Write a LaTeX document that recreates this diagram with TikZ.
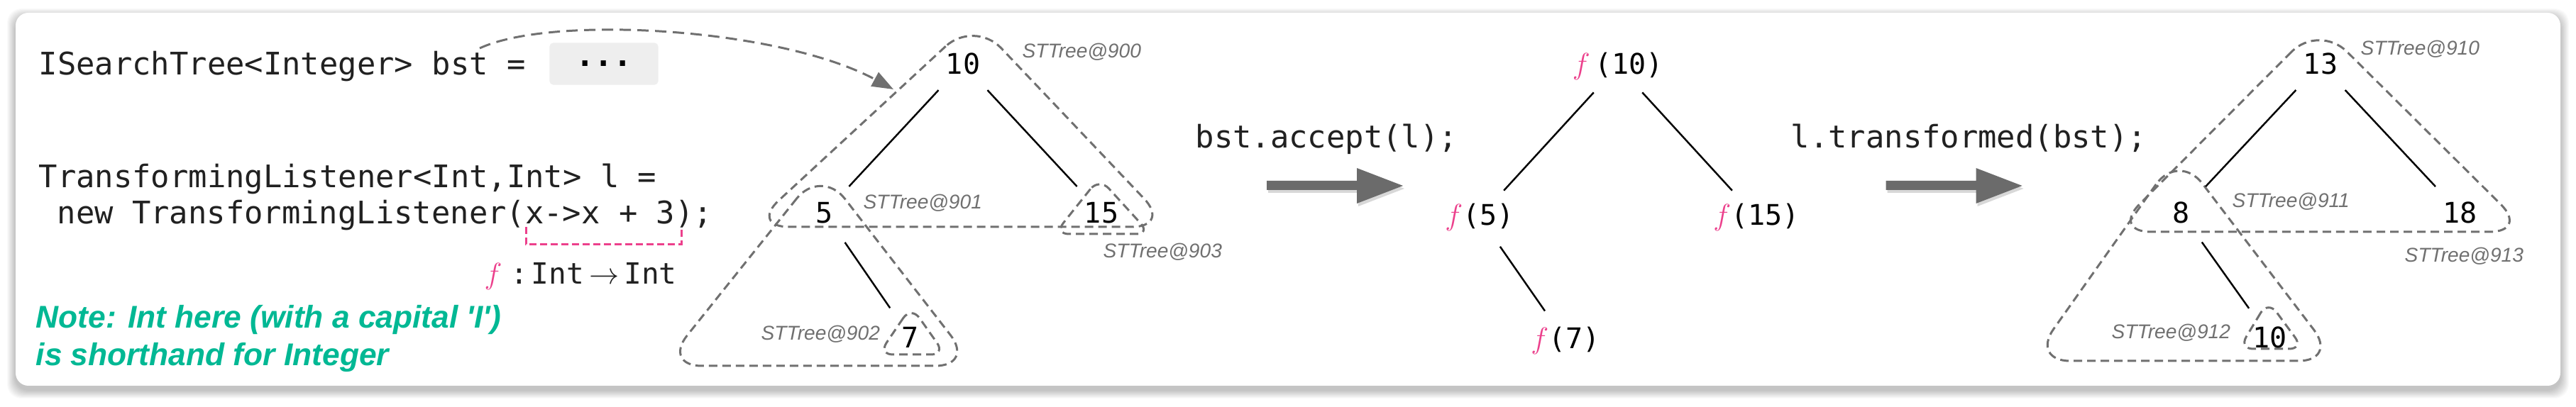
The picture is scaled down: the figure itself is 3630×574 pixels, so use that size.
\documentclass[tikz,border=0pt]{standalone}
\usepackage{fontspec}
\usepackage{tikz}
\usetikzlibrary{arrows.meta,shadows,positioning}
\newfontfamily\codefont{DejaVu Sans Mono}
\newfontfamily\labelfont{Liberation Sans}
\definecolor{fpink}{RGB}{236,64,140}
\definecolor{notegreen}{RGB}{0,184,148}
\definecolor{shapegrey}{RGB}{112,112,112}
\definecolor{arrowgrey}{RGB}{107,107,107}
\definecolor{dotsgrey}{RGB}{238,238,238}
\newcommand{\ffun}{\textcolor{fpink}{\fontsize{12pt}{14pt}\selectfont$f$}}
\newcommand{\fval}[2][]{\makebox[0pt]{\ffun#1(#2)}}

\begin{document}
\begin{tikzpicture}[x=0.01cm,y=-0.01cm,
  code/.style={anchor=base west,inner sep=0,text=black!87,font=\codefont\fontsize{12.46pt}{15pt}\selectfont},
  num/.style={circle,inner sep=0,minimum size=1cm,font=\codefont\fontsize{11.4pt}{14pt}\selectfont},
  sttree/.style={anchor=base west,inner sep=0,text=shapegrey,font=\labelfont\itshape\fontsize{8pt}{10pt}\selectfont},
  subtree/.style={draw=shapegrey,line width=0.85pt,dash pattern=on 0.12cm off 0.07cm,rounded corners=0.55cm},
  note/.style={anchor=base west,inner sep=0,text=notegreen,font=\labelfont\bfseries\itshape\fontsize{12.6pt}{15pt}\selectfont},
  bigarrow/.style={fill=arrowgrey,drop shadow={opacity=0.3,shadow xshift=0.02cm,shadow yshift=-0.04cm}},
  edge from parent/.style={draw,line width=0.7pt}]
\useasboundingbox (0,0) rectangle (3630,574);
\fill[white] (0,0) rectangle (3630,574);
\foreach \s in {1,...,12}
  \fill[black,opacity=0.02,rounded corners=0.2cm] ({22-\s},{24-\s}) rectangle ({3608+\s},{550+\s});
\fill[white,rounded corners=0.18cm] (22,18) rectangle (3608,544);

% code on the left
\node[code] (declbst) at (54,106) {ISearchTree<Integer> bst =};
\node[fill=dotsgrey,rounded corners=0.05cm,minimum width=1.53cm,minimum height=0.59cm,inner sep=0,
  font=\codefont\bfseries\fontsize{12.46pt}{15pt}\selectfont] (dots) at (851,90) {...};
\node[code] (decll) at (54,265) {TransformingListener<Int,Int> l =};
\node[code] (newl) at (80,316) {new TransformingListener(x->x + 3);};
\draw[fpink,line width=0.85pt,dash pattern=on 0.1cm off 0.05cm] (741,320) -- (741,345) -- (960,345) -- (960,320);
\node[code,font=\codefont\fontsize{11.7pt}{14pt}\selectfont] (fsig) at (682,401)
  {\ffun\hspace{0.3em}:\hspace{0.1em}Int$\,\to\,$Int};
\node[note] (note1) at (50,463) {Note: Int here (with a capital \textquotesingle I\textquotesingle)};
\node[note] (note2) at (50,516) {is shorthand for Integer};

% first tree
\draw[subtree] (1373,28) -- (1057,320) -- (1650,320) -- cycle;
\draw[subtree] (1157,237) -- (934,516) -- (1373,516) -- cycle;
\draw[subtree,rounded corners=0.2cm] (1284,432) -- (1238,500) -- (1332,500) -- cycle;
\draw[subtree,rounded corners=0.2cm] (1549,251) -- (1486,330) -- (1621,330) -- cycle;
\begin{scope}[level 1/.style={sibling distance=3.9cm,level distance=2.1cm},
  level 2/.style={level distance=1.76cm}]
\node[num] (a10) at (1357,90) {10}
  child {node[num] (a5) {5}
    child {node[num,xshift=1.21cm] (a7) {7}}}
  child {node[num] (a15) {15}};
\end{scope}
\node[sttree] (l900) at (1440,82) {STTree@900};
\node[sttree] (l901) at (1216,295) {STTree@901};
\node[sttree] (l903) at (1554,364) {STTree@903};
\node[sttree] (l902) at (1072,480) {STTree@902};

\coordinate (bstref) at (676,68);
\coordinate (hit900) at (1259,126);
\draw[shapegrey,line width=0.85pt,dash pattern=on 0.16cm off 0.09cm,-{Triangle[length=0.3cm,width=0.22cm]}]
  (bstref) .. controls (780,20) and (1100,40) .. (hit900);

% calls and arrows
\node[code] (accept) at (1684,209) {bst.accept(l);};
\node[code] (transf) at (2523,209) {l.transformed(bst);};
\foreach \ax in {0,8.72}
  \fill[bigarrow,xshift=\ax cm] (1785,255) -- (1912,255) -- (1912,237) -- (1977,262)
    -- (1912,287) -- (1912,268) -- (1785,268) -- cycle;

% mapped tree
\begin{scope}[level 1/.style={sibling distance=3.9cm,level distance=2.13cm},
  level 2/.style={level distance=1.74cm}]
\node[num] (f10) at (2280,93) {\fval[\,]{10}}
  child {node[num] (f5) {\fval{5}}
    child {node[num,xshift=1.21cm] (f7) {\fval{7}}}}
  child {node[num] (f15) {\fval{15}}};
\end{scope}

% result tree
\draw[subtree] (3268,34) -- (2976,327) -- (3563,327) -- cycle;
\draw[subtree] (3070,215) -- (2862,509) -- (3294,509) -- cycle;
\draw[subtree,rounded corners=0.2cm] (3196,424) -- (3155,492) -- (3246,492) -- cycle;
\begin{scope}[level 1/.style={sibling distance=3.93cm,level distance=2.1cm},
  level 2/.style={level distance=1.76cm}]
\node[num] (b13) at (3270,90) {13}
  child {node[num] (b8) {8}
    child {node[num,xshift=1.25cm] (b10) {10}}}
  child {node[num] (b18) {18}};
\end{scope}
\node[sttree] (l910) at (3326,78) {STTree@910};
\node[sttree] (l911) at (3145,293) {STTree@911};
\node[sttree] (l913) at (3388,370) {STTree@913};
\node[sttree] (l912) at (2975,478) {STTree@912};
\end{tikzpicture}
\end{document}
